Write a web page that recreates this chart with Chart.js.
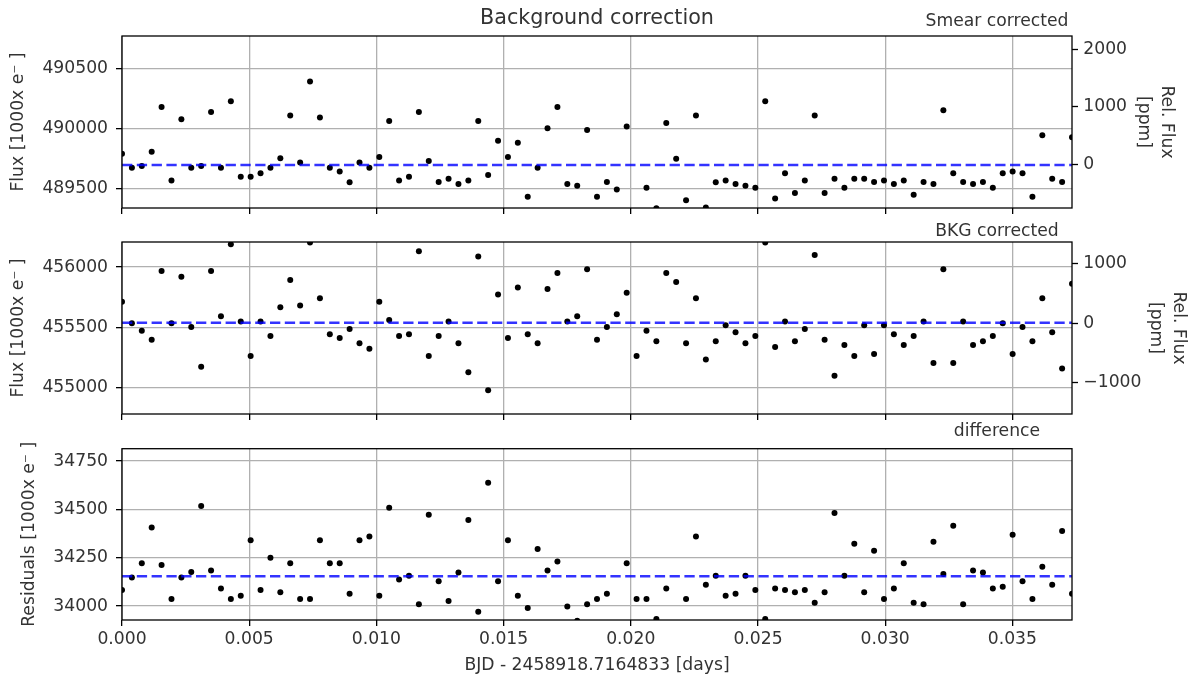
<!DOCTYPE html>
<html><head><meta charset="utf-8">
<script src="https://cdn.jsdelivr.net/npm/chart.js@4.4.1/dist/chart.umd.min.js"></script>
<style>
html,body{margin:0;padding:0;background:#fff;}
#wrap{position:relative;width:1199px;height:682px;overflow:hidden;background:#fff;}
canvas{position:absolute;left:0;}
</style></head><body>
<div id="wrap">
<canvas id="c1" width="1199" height="220" style="top:0px"></canvas>
<canvas id="c2" width="1199" height="202" style="top:220px"></canvas>
<canvas id="c3" width="1199" height="260" style="top:422px"></canvas>
</div>
<script>
// ---- data (time in days since BJD 2458918.7164833) ----
const TIME = [
 0, 0.000389, 0.000778, 0.001167, 0.001556, 0.001945, 0.002334, 0.002723, 0.003112, 0.003501,
 0.00389, 0.004279, 0.004668, 0.005057, 0.005446, 0.005835, 0.006224, 0.006613, 0.007002, 0.007391,
 0.00778, 0.008169, 0.008558, 0.008947, 0.009336, 0.009725, 0.010114, 0.010503, 0.010892, 0.011281,
 0.01167, 0.012059, 0.012448, 0.012837, 0.013226, 0.013615, 0.014004, 0.014393, 0.014782, 0.015171,
 0.01556, 0.015949, 0.016338, 0.016727, 0.017116, 0.017505, 0.017894, 0.018283, 0.018672, 0.019061,
 0.01945, 0.019839, 0.020228, 0.020617, 0.021006, 0.021395, 0.021784, 0.022173, 0.022562, 0.022951,
 0.02334, 0.023729, 0.024118, 0.024507, 0.024896, 0.025285, 0.025674, 0.026063, 0.026452, 0.026841,
 0.02723, 0.027619, 0.028008, 0.028397, 0.028786, 0.029175, 0.029564, 0.029953, 0.030342, 0.030731,
 0.03112, 0.031509, 0.031898, 0.032287, 0.032676, 0.033065, 0.033454, 0.033843, 0.034232, 0.034621,
 0.03501, 0.035399, 0.035788, 0.036177, 0.036566, 0.036955, 0.037344
];
const SMEAR = [
 489789, 489672, 489686, 489805, 490178, 489566, 490075, 489672, 489686, 490136,
 489672, 490225, 489597, 489597, 489625, 489672, 489750, 490106, 489716, 490389,
 490089, 489672, 489641, 489550, 489716, 489672, 489761, 490061, 489566, 489597,
 490136, 489728, 489552, 489580, 489536, 489566, 490061, 489611, 489897, 489761,
 489880, 489430, 489672, 490000, 490178, 489536, 489522, 489986, 489430, 489552,
 489491, 490014, 489297, 489505, 489333, 490044, 489747, 489400, 490106, 489341,
 489550, 489566, 489536, 489522, 489505, 490225, 489416, 489625, 489461, 489566,
 490106, 489461, 489580, 489505, 489580, 489580, 489552, 489566, 489536, 489566,
 489447, 489552, 489536, 490150, 489625, 489552, 489536, 489552, 489505, 489625,
 489641, 489625, 489430, 489942, 489580, 489552, 489925
];
const BKG = [
 455711, 455533, 455472, 455397, 455967, 455533, 455920, 455503, 455172, 455967,
 455592, 456189, 455547, 455261, 455547, 455428, 455667, 455892, 455681, 456203,
 455742, 455442, 455411, 455486, 455367, 455322, 455711, 455561, 455428, 455442,
 456131, 455261, 455428, 455547, 455367, 455127, 456087, 454977, 455772, 455411,
 455831, 455442, 455367, 455817, 455950, 455547, 455592, 455981, 455397, 455503,
 455608, 455786, 455261, 455472, 455383, 455950, 455875, 455367, 455742, 455233,
 455383, 455517, 455458, 455367, 455428, 456203, 455336, 455547, 455383, 455486,
 456100, 455397, 455097, 455353, 455261, 455517, 455278, 455517, 455442, 455353,
 455428, 455547, 455203, 455981, 455203, 455547, 455353, 455383, 455428, 455533,
 455278, 455503, 455383, 455742, 455458, 455158, 455861
];
const RESID = [
 34083, 34148, 34221, 34407, 34212, 34036, 34148, 34176, 34517, 34184,
 34091, 34036, 34053, 34341, 34083, 34250, 34072, 34221, 34036, 34036,
 34341, 34221, 34221, 34064, 34341, 34360, 34053, 34509, 34138, 34157,
 34009, 34472, 34128, 34026, 34174, 34445, 33971, 34638, 34128, 34341,
 34053, 33990, 34295, 34184, 34231, 33998, 33924, 34009, 34036, 34064,
 33883, 34221, 34036, 34036, 33933, 34091, 33872, 34036, 34360, 34110,
 34157, 34053, 34064, 34157, 34083, 33933, 34091, 34083, 34072, 34083,
 34017, 34072, 34481, 34157, 34322, 34072, 34286, 34036, 34091, 34221,
 34017, 34009, 34333, 34166, 34416, 34009, 34184, 34174, 34091, 34100,
 34369, 34128, 34036, 34203, 34110, 34388, 34064
];
const MED_SMEAR = 489694;
const MED_BKG = 455537;
const MED_RESID = 34154;

const X_TICKS = [0, 0.005, 0.010, 0.015, 0.020, 0.025, 0.030, 0.035];
const Y1_TICKS = [489500, 490000, 490500];
const Y1R_TICKS = [0, 1000, 2000];
const Y2_TICKS = [455000, 455500, 456000];
const Y2R_TICKS = [-1000, 0, 1000];
const Y3_TICKS = [34000, 34250, 34500, 34750];

const Y1_RANGE = [489336, 490769];
const Y1R_RANGE = [-760, 2231];
const Y2_RANGE = [454780, 456208];
const Y2R_RANGE = [-1531, 1367];
const Y3_RANGE = [33928, 34814];
const X_RANGE = [0, TIME[TIME.length - 1]];

// ---- styling ----
const FONT = 'DejaVu Sans';
const TXT = '#333333';
Chart.defaults.font.family = FONT;
Chart.defaults.color = TXT;

const overlay = {
  id: 'overlay',
  afterDraw(chart, args, opts) {
    const {ctx, chartArea: a} = chart;
    ctx.save();
    ctx.strokeStyle = '#000';
    ctx.lineWidth = 1.3;
    ctx.strokeRect(a.left, a.top, a.right - a.left, a.bottom - a.top);
    (opts.texts || []).forEach(t => {
      ctx.font = t.size + 'px "' + FONT + '"';
      ctx.fillStyle = TXT;
      ctx.textAlign = 'center';
      ctx.textBaseline = 'alphabetic';
      ctx.fillText(t.text, a.left + t.fx * (a.right - a.left), a.top + t.dy);
    });
    ctx.restore();
  }
};

const setTicks = arr => s => { s.ticks = arr.map(v => ({value: v})); };
const fmtNum = v => (v < 0 ? '\u2212' + Math.abs(v) : String(v));

function pts(ys) { return TIME.map((t, i) => ({x: t, y: ys[i]})); }

function xScale(showLabels, height) {
  return {
    type: 'linear', min: X_RANGE[0], max: X_RANGE[1],
    afterBuildTicks: setTicks(X_TICKS),
    afterFit: s => { s.height = height; s.paddingLeft = 0; s.paddingRight = 0; },
    ticks: {display: showLabels, autoSkip: false, maxRotation: 0, padding: 3.7,
            color: TXT, font: {size: 17.2}, callback: v => v.toFixed(3)},
    grid: {color: '#b0b0b0', lineWidth: 1.3, tickColor: '#000', tickWidth: 1.3, tickLength: 6, drawTicks: true},
    border: {display: false},
    title: showLabels ? {display: true, text: 'BJD - 2458918.7164833 [days]', color: TXT,
            font: {size: 17.2}, padding: {top: 0, bottom: 6}} : {display: false}
  };
}
function yLeft(range, ticks, title, tpad) {
  return {
    type: 'linear', position: 'left', min: range[0], max: range[1],
    afterBuildTicks: setTicks(ticks),
    afterFit: s => { s.width = 122; s.paddingTop = 0; s.paddingBottom = 0; },
    ticks: {padding: 8, color: TXT, font: {size: 17.2}, callback: fmtNum},
    grid: {color: '#b0b0b0', lineWidth: 1.3, tickColor: '#000', tickWidth: 1.3, tickLength: 6, drawTicks: true},
    border: {display: false},
    title: {display: true, text: title, color: TXT, font: {size: 17.2}, padding: {top: tpad, bottom: 0}}
  };
}
function yRight(range, ticks, tpad) {
  return {
    type: 'linear', position: 'right', min: range[0], max: range[1],
    afterBuildTicks: setTicks(ticks),
    afterFit: s => { s.width = 127; s.paddingTop = 0; s.paddingBottom = 0; },
    ticks: {padding: 5.3, color: TXT, font: {size: 17.2}, callback: fmtNum},
    grid: {drawOnChartArea: false, tickColor: '#000', tickWidth: 1.3, tickLength: 6, drawTicks: true},
    border: {display: false},
    title: {display: true, text: ['Rel. Flux', '[ppm]'], color: TXT,
            font: {size: 17.2, lineHeight: 1.3}, padding: {top: tpad, bottom: 0}}
  };
}
function datasets(ys, med) {
  return [
    {type: 'line', data: [{x: X_RANGE[0], y: med}, {x: X_RANGE[1], y: med}],
     borderColor: 'rgba(0,0,255,0.8)', borderWidth: 2.5, borderDash: [10.3, 4.5],
     pointRadius: 0, fill: false, clip: 0, yAxisID: 'y'},
    {type: 'scatter', data: pts(ys), backgroundColor: '#000', borderColor: '#000',
     borderWidth: 0, pointRadius: 3, pointHoverRadius: 3, clip: 0, yAxisID: 'y'}
  ];
}
function baseOpts(padding, scales, texts) {
  return {
    responsive: false, animation: false, devicePixelRatio: 1, events: [],
    layout: {padding: padding},
    plugins: {legend: {display: false}, tooltip: {enabled: false}, title: {display: false},
              overlay: {texts: texts}},
    scales: scales
  };
}

new Chart(document.getElementById('c1'), {
  data: {datasets: datasets(SMEAR, MED_SMEAR)},
  plugins: [overlay],
  options: baseOpts({top: 36, bottom: 0, left: 0, right: 0}, {
    x: xScale(false, 12),
    y: yLeft(Y1_RANGE, Y1_TICKS, 'Flux [1000x e\u207B ]', 8.7),
    y2: yRight(Y1R_RANGE, Y1R_TICKS, 21.8)
  }, [
    {text: 'Background correction', size: 20.7, fx: 0.5, dy: -12.5},
    {text: 'Smear corrected', size: 17.2, fx: 0.921, dy: -10}
  ])
});

new Chart(document.getElementById('c2'), {
  data: {datasets: datasets(BKG, MED_BKG)},
  plugins: [overlay],
  options: baseOpts({top: 22, bottom: 0, left: 0, right: 0}, {
    x: xScale(false, 8),
    y: yLeft(Y2_RANGE, Y2_TICKS, 'Flux [1000x e\u207B ]', 8.7),
    y2: yRight(Y2R_RANGE, Y2R_TICKS, 9.8)
  }, [
    {text: 'BKG corrected', size: 17.2, fx: 0.921, dy: -6.3}
  ])
});

new Chart(document.getElementById('c3'), {
  data: {datasets: datasets(RESID, MED_RESID)},
  plugins: [overlay],
  options: baseOpts({top: 26.7, bottom: 0, left: 0, right: 127}, {
    x: xScale(true, 62),
    y: yLeft(Y3_RANGE, Y3_TICKS, 'Residuals [1000x e\u207B ]', 19.7)
  }, [
    {text: 'difference', size: 17.2, fx: 0.921, dy: -13}
  ])
});
</script>
</body></html>
